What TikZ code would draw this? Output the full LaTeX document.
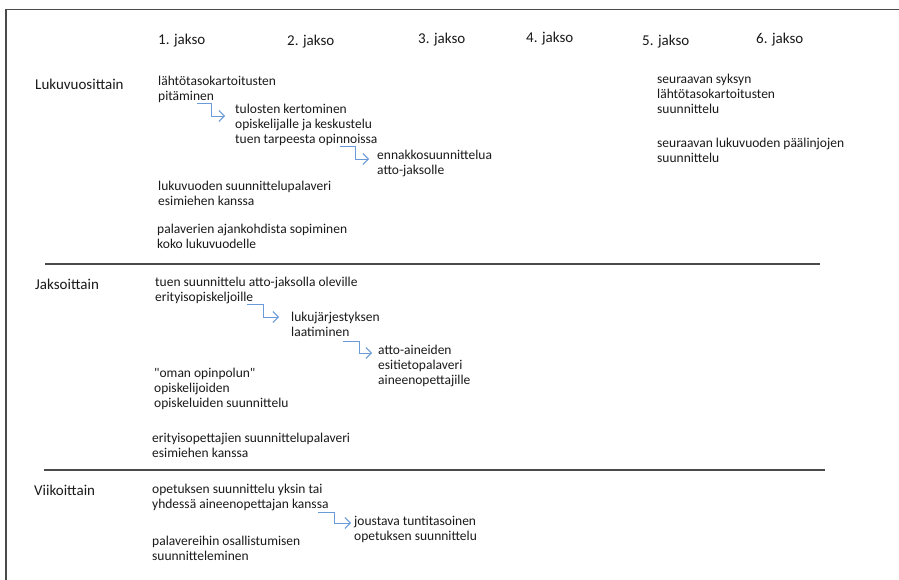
\documentclass[tikz,border=0pt]{standalone}
\usepackage{fontspec}
\setmainfont{Carlito}
\usetikzlibrary{arrows.meta,calc}
\definecolor{txt}{HTML}{1A1A1A}
\definecolor{arr}{HTML}{6A9AD8}
\definecolor{frm}{HTML}{4A4A4A}
\tikzset{
  head/.style={font=\fontsize{15}{18}\selectfont, text=txt, anchor=base west, inner sep=0pt},
  body/.style={font=\fontsize{13.5}{15}\selectfont, text=txt, align=left, anchor=north west, inner sep=0pt},
  conn/.style={draw=arr, line width=0.9pt, -{Straight Barb[length=5.5pt,width=11pt]}},
  sepline/.style={draw=frm, line width=1.3pt},
  frameline/.style={draw=frm, line width=1.8pt}
}
\newcommand{\fl}{\rule{0pt}{10pt}}
\newcommand{\dq}{\XeTeXglyph\XeTeXcharglyph"22\relax}
\begin{document}
\begin{tikzpicture}[x=1pt,y=-1pt]
\useasboundingbox (0,0) rectangle (899,580);
\fill[white] (0,0) rectangle (899,580);
% frame
\draw[frameline] (6,581) -- (6,9.5) -- (900,9.5);
% separators
\draw[sepline] (45,264) -- (820,264);
\draw[sepline] (44,470) -- (825,470);
% headers
\node[head] (h1) at (158,45) {1. jakso};
\node[head] (h2) at (287,46) {2. jakso};
\node[head] (h3) at (418,44) {3. jakso};
\node[head] (h4) at (526,43) {4. jakso};
\node[head] (h5) at (642,46) {5. jakso};
\node[head] (h6) at (756,44) {6. jakso};
% row labels
\node[head] (r1) at (35,90) {Lukuvuosittain};
\node[head] (r2) at (35,289) {Jaksoittain};
\node[head] (r3) at (34,495) {Viikoittain};
% Lukuvuosittain
\node[body] (a1) at (158,75.5) {\fl lähtötasokartoitusten\\pitäminen};
\node[body] (a2) at (235,103.5) {\fl tulosten kertominen\\opiskelijalle ja keskustelu\\tuen tarpeesta opinnoissa};
\node[body] (a3) at (377,149.5) {\fl ennakkosuunnittelua\\atto-jaksolle};
\node[body] (a4) at (158,180.5) {\fl lukuvuoden suunnittelupalaveri\\esimiehen kanssa};
\node[body] (a5) at (157,223.5) {\fl palaverien ajankohdista sopiminen\\koko lukuvuodelle};
\node[body] (a6) at (657,73.5) {\fl seuraavan syksyn\\lähtötasokartoitusten\\suunnittelu};
\node[body] (a7) at (657,137.5) {\fl seuraavan lukuvuoden päälinjojen\\suunnittelu};
% Jaksoittain
\node[body] (b1) at (155,276.5) {\fl tuen suunnittelu atto-jaksolla oleville\\erityisopiskeljoille};
\node[body] (b2) at (291,311.5) {\fl lukujärjestyksen\\laatiminen};
\node[body] (b3) at (378,344.5) {\fl atto-aineiden\\esitietopalaveri\\aineenopettajille};
\node[body] (b4) at (154,367.5) {\fl \dq oman opinpolun\dq\\opiskelijoiden\\opiskeluiden suunnittelu};
\node[body] (b5) at (152,432.5) {\fl erityisopettajien suunnittelupalaveri\\esimiehen kanssa};
% Viikoittain
\node[body] (c1) at (152,483.5) {\fl opetuksen suunnittelu yksin tai\\yhdessä aineenopettajan kanssa};
\node[body] (c2) at (354,515.5) {\fl joustava tuntitasoinen\\opetuksen suunnittelu};
\node[body] (c3) at (152,535.5) {\fl palavereihin osallistumisen\\suunnitteleminen};
% connectors
\coordinate (s1) at (197,103);
\coordinate (t1) at ([shift={(-10,12.5)}]a2.north west);
\draw[conn] (s1) -- ++(14,0) |- (t1);
\coordinate (s2) at (340,146);
\coordinate (t2) at ([shift={(-8,9.5)}]a3.north west);
\draw[conn] (s2) -- ++(15,0) |- (t2);
\coordinate (s3) at (247,304);
\coordinate (t3) at ([shift={(-12,5.5)}]b2.north west);
\draw[conn] (s3) -- ++(16,0) |- (t3);
\coordinate (s4) at (343,341);
\coordinate (t4) at ([shift={(-6,8.5)}]b3.north west);
\draw[conn] (s4) -- ++(16,0) |- (t4);
\coordinate (s5) at (318,512);
\coordinate (t5) at ([shift={(-3,7.5)}]c2.north west);
\draw[conn] (s5) -- ++(16,0) |- (t5);
\end{tikzpicture}
\end{document}
